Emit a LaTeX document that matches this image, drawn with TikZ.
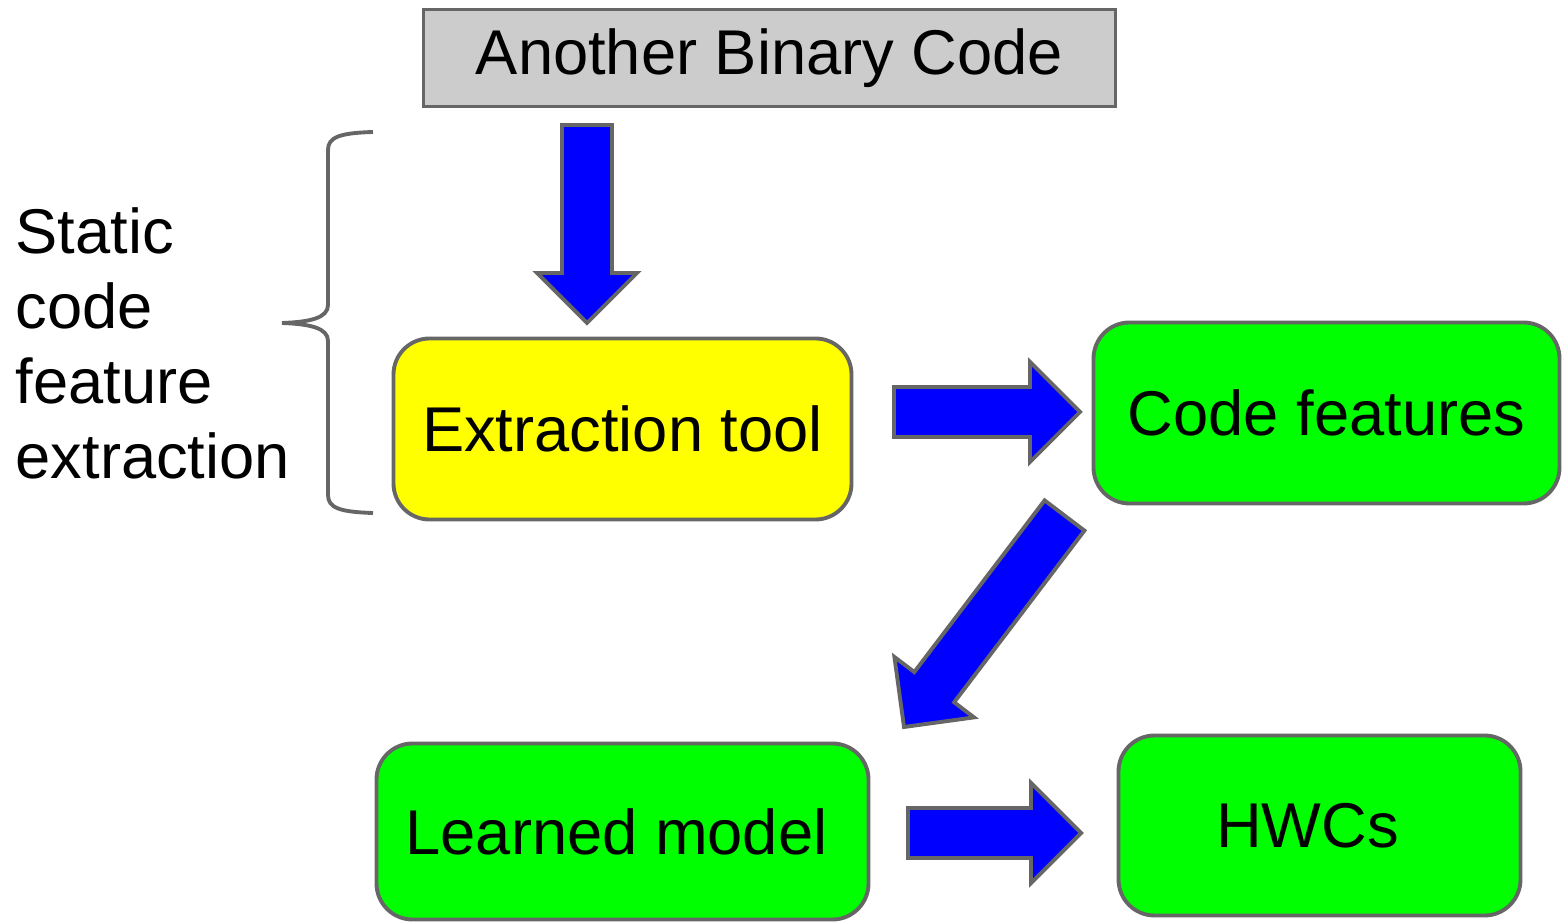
\documentclass[tikz,border=0pt]{standalone}
\usepackage{fontspec}
\setmainfont{Liberation Sans}
\usepackage{tikz}
\usetikzlibrary{calc}

\definecolor{boxgray}{HTML}{CCCCCC}
\definecolor{edgegray}{HTML}{666666}
\definecolor{toolyellow}{HTML}{FFFF00}
\definecolor{resgreen}{HTML}{00FF00}
\definecolor{flowblue}{HTML}{0000FF}

% fat block arrow from #1 to #2
\newcommand{\blockarrow}[2]{%
  \coordinate (#1-h) at ($(#2)!0.5cm!(#1)$);
  \filldraw[fill=flowblue, draw=edgegray, line width=1.1pt]
    ($(#1)!0.25cm!90:(#2)$) -- ($(#1-h)!0.25cm!90:(#2)$) -- ($(#1-h)!0.5cm!90:(#2)$)
    -- (#2) -- ($(#1-h)!0.5cm!-90:(#2)$) -- ($(#1-h)!0.25cm!-90:(#2)$)
    -- ($(#1)!0.25cm!-90:(#2)$) -- cycle;
}

\begin{document}
\begin{tikzpicture}[
    every node/.style={font=\fontsize{18}{21.3}\selectfont},
    stagebox/.style={draw=edgegray, line width=1.1pt, rounded corners=0.36cm, inner sep=0pt}
  ]
  \useasboundingbox (0,0) rectangle (15.62,-9.22);

  \node[draw=edgegray, fill=boxgray, line width=1.1pt, minimum width=6.92cm, minimum height=0.97cm, inner sep=0pt]
    at (7.695, -0.58) (binary) {\raisebox{-0.03cm}{Another Binary Code}};
  \node[stagebox, fill=toolyellow, minimum width=4.58cm, minimum height=1.81cm] at (6.225, -4.29) (tool) {Extraction tool};
  \node[stagebox, fill=resgreen, minimum width=4.66cm, minimum height=1.81cm] at (13.265, -4.13) (features) {Code features};
  \node[stagebox, fill=resgreen, minimum width=4.92cm, minimum height=1.76cm] at (6.225, -8.315) (model) {\hbox{Learned model\kern0.12cm}};
  \node[stagebox, fill=resgreen, minimum width=4.02cm, minimum height=1.80cm] at (13.195, -8.255) (hwc) {\hbox{HWCs\kern0.24cm}};

  \node[anchor=north west, align=left, inner sep=0pt] at (0.15, -2.07) (static)
    {Static\\code\\feature\\extraction};

  % brace
  \draw[edgegray, line width=1.1pt]
    (3.73,-1.32) .. controls (3.40,-1.33) and (3.28,-1.37) .. (3.28,-1.50) -- (3.28,-3.05)
    .. controls (3.28,-3.18) and (3.10,-3.22) .. (2.82,-3.23)
    .. controls (3.10,-3.24) and (3.28,-3.28) .. (3.28,-3.41) -- (3.28,-4.95)
    .. controls (3.28,-5.08) and (3.40,-5.12) .. (3.73,-5.13);

  \coordinate (in-a) at (5.87, -1.25);
  \coordinate (in-b) at (5.87, -3.23);
  \coordinate (ext-a) at (8.94, -4.12);
  \coordinate (ext-b) at (10.80, -4.12);
  \coordinate (learn-a) at (10.645, -5.155);
  \coordinate (learn-b) at (9.04, -7.27);
  \coordinate (pred-a) at (9.08, -8.33);
  \coordinate (pred-b) at (10.81, -8.33);

  \blockarrow{in-a}{in-b}
  \blockarrow{ext-a}{ext-b}
  \blockarrow{learn-a}{learn-b}
  \blockarrow{pred-a}{pred-b}
\end{tikzpicture}
\end{document}
